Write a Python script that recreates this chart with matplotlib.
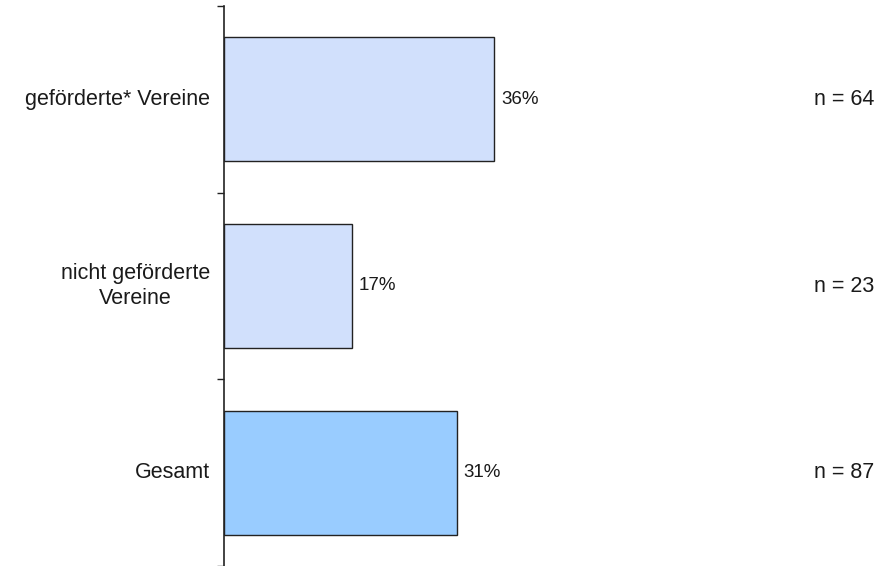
import matplotlib
matplotlib.use("Agg")
import matplotlib.pyplot as plt

categories = ["geförderte* Vereine", "nicht geförderte\nVereine", "Gesamt"]
values = [36, 17, 31]
n_labels = ["n = 64", "n = 23", "n = 87"]
colors = ["#D1E0FC", "#D1E0FC", "#99CCFF"]

plt.rcParams['font.family'] = ['Liberation Sans', 'DejaVu Sans']

W, H = 880, 566
fig = plt.figure(figsize=(W / 100, H / 100), dpi=100)
ax = fig.add_axes([224 / W, 0, 600 / W, 560 / H])

pos = list(range(len(categories)))
ax.barh(pos, values, height=0.664, color=colors, edgecolor="#222222", linewidth=1.0, zorder=2)

ax.set_xlim(0, 80)
ax.set_ylim(len(categories) - 0.5, -0.5)

for s in ["top", "right", "bottom"]:
    ax.spines[s].set_visible(False)
ax.spines["left"].set_color("#222222")
ax.spines["left"].set_linewidth(1.2)

ax.set_xticks([])
ax.set_yticks([p - 0.5 for p in pos] + [len(categories) - 0.5])
ax.set_yticklabels([])
ax.tick_params(axis="y", direction="out", length=5, width=1.0, color="#222222")

for p, c in zip(pos, categories):
    ax.text(-14 / 7.5, p, c, ha="right", va="center", fontsize=15.5,
            color="#1a1a1a", linespacing=1.25, multialignment="center")

for p, v in zip(pos, values):
    ax.text(v + 7 / 7.5, p, f"{v}%", ha="left", va="center", fontsize=13.5, color="#1a1a1a")

for p, t in zip(pos, n_labels):
    y_disp = ax.transData.transform((0, p))[1]
    fig.text(874 / W, y_disp / H, t, ha="right", va="center", fontsize=15.5, color="#1a1a1a")

fig.savefig("out.png", dpi=100)
